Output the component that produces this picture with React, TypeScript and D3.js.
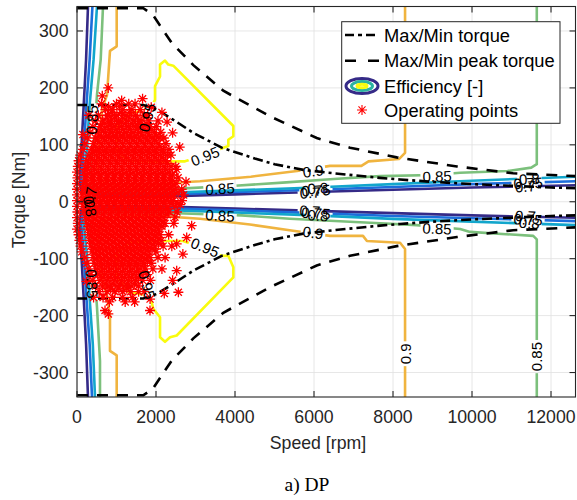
import React from 'react';
import * as d3 from 'd3';

type P = [number, number];

// ---------------- data ----------------
const speedTicks = [0, 2000, 4000, 6000, 8000, 10000, 12000];
const torqueTicks = [-300, -200, -100, 0, 100, 200, 300];
const speedDomain: P = [0, 12620];
const torqueDomain: P = [-343, 343];

const maxTorqueUpper: P[] = [[0, 170], [1680, 170], [2017, 162], [2438, 144], [2945, 121], [3114, 115], [3664, 95], [4500, 76], [5000, 66], [5730, 56], [6500, 50], [7670, 42], [8178, 39], [9000, 35], [10000, 31], [11000, 28], [12000, 25], [12620, 24]];
const maxTorqueLower: P[] = [[0, -170], [1680, -170], [2017, -162], [2438, -144], [2945, -121], [3114, -115], [3664, -95], [4500, -76], [5000, -66], [5730, -56], [6500, -50], [7670, -42], [8178, -39], [9000, -35], [10000, -31], [11000, -28], [12000, -25], [12620, -24]];
const peakTorqueUpper: P[] = [[0, 340], [1680, 340], [1924, 328], [2398, 279], [2945, 240], [3704, 195], [4887, 150], [6069, 112], [6912, 95], [8094, 78], [9620, 62], [11040, 50], [12620, 45]];
const peakTorqueLower: P[] = [[0, -340], [1680, -340], [1924, -328], [2398, -279], [2945, -240], [3704, -195], [4887, -150], [6069, -112], [6912, -95], [8094, -78], [9620, -62], [11040, -50], [12620, -45]];

const levels = [0.7, 0.75, 0.8, 0.85, 0.9, 0.95];
const levelColors = ['#352a87', '#1c6ddb', '#12a6cc', '#7cc07c', '#f0b43f', '#f9fb0e'];

const eff070: P[][] = [
  [[278, 343], [230, 250], [170, 170], [110, 92], [70, 40], [110, 14], [600, 9], [2000, 9], [4000, 13], [6000, 17], [8000, 21], [10000, 25], [12620, 29]],
  [[278, -343], [230, -250], [170, -170], [110, -92], [70, -40], [110, -12], [600, -8], [2000, -8], [4000, -12], [6000, -16], [8000, -20], [10000, -24], [12620, -28]],
];
const eff075: P[][] = [
  [[390, 343], [320, 250], [240, 170], [170, 92], [110, 40], [160, 16], [700, 12], [2000, 12], [4000, 17], [6000, 21], [8000, 26], [10000, 31], [12620, 36]],
  [[380, -343], [320, -250], [240, -170], [170, -92], [110, -40], [160, -14], [700, -11], [2000, -11], [4000, -15], [6000, -20], [8000, -25], [10000, -29], [12620, -34]],
];
const eff080: P[][] = [
  [[506, 343], [420, 250], [320, 170], [250, 92], [170, 40], [230, 18], [800, 15], [2000, 15], [4000, 20], [6000, 25], [8000, 31], [10000, 37], [12620, 44]],
  [[456, -343], [400, -250], [320, -170], [250, -92], [170, -40], [230, -17], [800, -14], [2000, -14], [4000, -19], [6000, -24], [8000, -30], [10000, -35], [12620, -41]],
];
const eff085: P[][] = [
  [[658, 343], [600, 250], [506, 188], [430, 110], [330, 50], [400, 24], [1000, 20], [2000, 21], [2600, 23], [4000, 28], [5300, 34], [6500, 40], [7670, 45], [9000, 47], [9700, 51], [10900, 54], [11500, 60], [11640, 66], [11640, 343]],
  [[582, -343], [582, -280], [506, -185], [430, -110], [330, -50], [400, -22], [1000, -18], [2000, -19], [4170, -24], [5390, -30], [7420, -37], [8600, -41], [9700, -48], [9950, -53], [11550, -60], [11640, -66], [11640, -343]],
];
const eff090: P[][] = [
  [[1005, 343], [1005, 273], [835, 265], [760, 188], [633, 162], [560, 100], [520, 50], [700, 32], [1200, 28], [1850, 27], [2355, 33], [3114, 36], [4400, 44], [5570, 54], [6406, 63], [7200, 63], [7380, 71], [8150, 75], [8305, 86], [8305, 343]],
  [[1005, -343], [1005, -270], [835, -262], [835, -200], [760, -165], [650, -141], [560, -100], [520, -50], [700, -30], [1200, -25], [1850, -24], [3114, -30], [4380, -40], [5470, -51], [6406, -60], [7240, -60], [7340, -69], [8178, -72], [8305, -83], [8305, -343]],
];
const eff095: P[][] = [
  [[1848, 162], [1975, 179], [1975, 203], [2102, 220], [2102, 241], [2228, 248], [2312, 241], [2438, 239], [3958, 133], [3958, 115], [3831, 109], [3831, 98], [3704, 95], [3241, 82], [2735, 71], [2481, 71], [1848, 71], [1300, 72], [1000, 90], [1000, 130], [1300, 155], [1848, 162]],
  [[1848, -165], [1932, -188], [2102, -203], [2102, -238], [2228, -246], [2355, -238], [2524, -235], [3958, -133], [3958, -115], [3831, -95], [3664, -95], [3241, -82], [2684, -69], [2481, -69], [1848, -69], [1300, -72], [1000, -90], [1000, -130], [1300, -158], [1848, -165]],
];
const effContours = [eff070, eff075, eff080, eff085, eff090, eff095];

// contour labels: level index, text, speed, torque, angle
const labelLevel = [3, 3, 4, 3, 5, 5, 4, 4, 3, 3, 3, 3, 0, 1, 2, 0, 1, 2, 0, 1, 2, 0, 1, 2, 5, 5, 0, 2];
const labelText = ['0.85', '0.85', '0.9', '0.85', '0.95', '0.95', '0.9', '0.9', '0.85', '0.85', '0.85', '0.85', '0.7', '0.75', '0.8', '0.7', '0.75', '0.8', '0.7', '0.75', '0.8', '0.7', '0.75', '0.8', '0.95', '0.95', '0.7', '0.8'];
const labelSpeed = [380, 380, 8305, 11640, 3241, 3241, 5976, 5976, 3621, 3621, 9115, 9115, 5900, 6050, 6100, 5900, 6050, 6100, 11350, 11420, 11450, 11350, 11420, 11450, 1772, 1772, 330, 330];
const labelTorque = [144, -144, -267, -272, 80, -80, 54, -54, 23, -24, 45, -47, 16, 20, 24, -16, -20, -24, 27, 33, 40, -25, -31, -37, 148, -146, 8, -8];
const labelAngle = [-87, 87, -90, -90, -22, 22, -8, 8, -4, 4, -2, 2, -3, -3, -3, 3, 3, 3, -3, -3, -3, 3, 3, 3, -75, 75, -80, 80];

// operating points: rows of [torque, speeds]
const opRows: [number, number[]][] = [
  [200, [790]],
  [186, [640]],
  [172, [620, 1000, 1310, 1470]],
  [162, [720, 900, 1160, 1390, 1600]],
  [152, [540, 780, 1010, 1240, 1480, 1700, 1790]],
  [142, [470, 650, 850, 1050, 1250, 1420, 1620, 1820, 2050]],
  [132, [400, 590, 780, 960, 1130, 1300, 1480, 1650, 1850, 2010]],
  [122, [330, 530, 720, 900, 1080, 1260, 1440, 1610, 1790, 1960, 2120]],
  [112, [260, 470, 660, 840, 1020, 1200, 1380, 1560, 1740, 1920, 2100, 2200]],
  [102, [200, 420, 610, 790, 970, 1150, 1330, 1510, 1690, 1870, 2050, 2250]],
  [92, [150, 370, 560, 740, 920, 1100, 1280, 1460, 1640, 1820, 2000, 2180, 2330]],
  [82, [80, 300, 490, 670, 850, 1030, 1210, 1390, 1570, 1750, 1930, 2110, 2290, 2380]],
  [72, [40, 250, 440, 620, 800, 980, 1160, 1340, 1520, 1700, 1880, 2060, 2240]],
  [62, [20, 210, 400, 580, 760, 940, 1120, 1300, 1480, 1660, 1840, 2020, 2200, 2380, 2500]],
  [52, [0, 180, 360, 540, 720, 900, 1080, 1260, 1440, 1620, 1800, 1980, 2160, 2340]],
  [42, [10, 200, 380, 560, 740, 920, 1100, 1280, 1460, 1640, 1820, 2000, 2180, 2360, 2560]],
  [32, [0, 170, 350, 530, 710, 890, 1070, 1250, 1430, 1610, 1790, 1970, 2150, 2330, 2510]],
  [22, [0, 150, 320, 500, 680, 860, 1040, 1220, 1400, 1580, 1760, 1940, 2120, 2300, 2480, 2650]],
  [12, [0, 130, 300, 480, 660, 840, 1020, 1200, 1380, 1560, 1740, 1920, 2100, 2280, 2460]],
  [2, [0, 120, 280, 460, 640, 820, 1000, 1180, 1360, 1540, 1720, 1900, 2080, 2260, 2440, 2660]],
  [-8, [0, 150, 320, 500, 680, 860, 1040, 1220, 1400, 1580, 1760, 1940, 2120, 2300, 2480]],
  [-18, [10, 180, 350, 530, 710, 890, 1070, 1250, 1430, 1610, 1790, 1970, 2150, 2330, 2530]],
  [-28, [0, 220, 400, 580, 760, 940, 1120, 1300, 1480, 1660, 1840, 2020, 2200]],
  [-38, [20, 250, 430, 610, 790, 970, 1150, 1330, 1510, 1690, 1870, 2050, 2230, 2450]],
  [-48, [0, 270, 450, 630, 810, 990, 1170, 1350, 1530, 1710, 1890, 2070]],
  [-58, [40, 300, 480, 660, 840, 1020, 1200, 1380, 1560, 1740, 1920, 2100, 2320]],
  [-68, [60, 320, 500, 680, 860, 1040, 1220, 1400, 1580, 1760, 1940, 2130]],
  [-78, [90, 350, 530, 710, 890, 1070, 1250, 1430, 1610, 1790, 1970, 2180, 2400]],
  [-88, [120, 380, 560, 740, 920, 1100, 1280, 1460, 1640, 1820, 2000]],
  [-98, [200, 410, 590, 770, 950, 1130, 1310, 1490, 1670, 1850, 2050, 2230]],
  [-108, [250, 440, 620, 800, 980, 1160, 1340, 1520, 1700, 1880]],
  [-118, [300, 470, 650, 830, 1010, 1190, 1370, 1550, 1730, 1920, 2150]],
  [-128, [350, 520, 700, 880, 1060, 1240, 1420, 1600, 1780]],
  [-138, [400, 580, 760, 940, 1120, 1300, 1480, 1660, 1860]],
  [-148, [470, 650, 830, 1010, 1190, 1370, 1550]],
  [-158, [560, 760, 960, 1160, 1360, 1560, 1700]],
  [-168, [660, 900, 1150, 1400]],
  [-176, [820, 1220, 1460]],
];
const opRowsDense: [number, number[]][] = [
  [167, [800, 1080]],
  [157, [880, 1120, 1330]],
  [147, [760, 950, 1150, 1340, 1530]],
  [137, [690, 870, 1050, 1220, 1390, 1560, 1750]],
  [127, [620, 810, 990, 1170, 1350, 1530, 1700, 1880]],
  [117, [560, 750, 930, 1110, 1290, 1470, 1650, 1830, 2010]],
  [107, [520, 700, 880, 1060, 1240, 1420, 1600, 1780, 1960]],
  [97, [460, 650, 830, 1010, 1190, 1370, 1550, 1730, 1910, 2100]],
  [87, [400, 580, 760, 940, 1120, 1300, 1480, 1660, 1840, 2020, 2200]],
  [77, [350, 530, 710, 890, 1070, 1250, 1430, 1610, 1790, 1970, 2150]],
  [67, [300, 490, 670, 850, 1030, 1210, 1390, 1570, 1750, 1930, 2110, 2290]],
  [57, [270, 450, 630, 810, 990, 1170, 1350, 1530, 1710, 1890, 2070, 2250]],
  [47, [250, 430, 610, 790, 970, 1150, 1330, 1510, 1690, 1870, 2050, 2230, 2420]],
  [37, [260, 440, 620, 800, 980, 1160, 1340, 1520, 1700, 1880, 2060, 2240, 2420]],
  [27, [240, 420, 600, 780, 960, 1140, 1320, 1500, 1680, 1860, 2040, 2220, 2400]],
  [17, [220, 400, 580, 760, 940, 1120, 1300, 1480, 1660, 1840, 2020, 2200, 2380, 2560]],
  [7, [200, 380, 560, 740, 920, 1100, 1280, 1460, 1640, 1820, 2000, 2180, 2360]],
  [-3, [220, 400, 580, 760, 940, 1120, 1300, 1480, 1660, 1840, 2020, 2200, 2380, 2560]],
  [-13, [260, 440, 620, 800, 980, 1160, 1340, 1520, 1700, 1880, 2060, 2240]],
  [-23, [300, 480, 660, 840, 1020, 1200, 1380, 1560, 1740, 1920, 2100, 2280]],
  [-33, [330, 510, 690, 870, 1050, 1230, 1410, 1590, 1770, 1950, 2130]],
  [-43, [350, 530, 710, 890, 1070, 1250, 1430, 1610, 1790, 1970, 2150]],
  [-53, [380, 560, 740, 920, 1100, 1280, 1460, 1640, 1820, 2000]],
  [-63, [400, 580, 760, 940, 1120, 1300, 1480, 1660, 1840, 2030]],
  [-73, [430, 610, 790, 970, 1150, 1330, 1510, 1690, 1870, 2060]],
  [-83, [460, 640, 820, 1000, 1180, 1360, 1540, 1720, 1900]],
  [-93, [490, 670, 850, 1030, 1210, 1390, 1570, 1750]],
  [-103, [520, 700, 880, 1060, 1240, 1420, 1600, 1780]],
  [-113, [560, 740, 920, 1100, 1280, 1460, 1640]],
  [-123, [610, 790, 970, 1150, 1330, 1510, 1690]],
  [-133, [660, 840, 1020, 1200, 1380, 1560]],
  [-143, [730, 910, 1090, 1270, 1450]],
  [-153, [850, 1060, 1260]],
];
const opExtra: P[] = [
  [2524, 57], [2903, -42], [2777, -63], [2524, -74], [2524, -121], [2566, -159], [1848, -191], [709, -191], [793, -197], [2481, -27],
  [2700, 12], [2600, 96], [2420, 121], [2280, 140], [2150, 157], [1880, 166], [1660, 181], [1130, 178], [300, 152], [150, 118],
  [2680, -92], [2420, -138], [2210, -161], [1850, -171], [420, -168], [240, -140], [2760, 35], [2610, -5],
];

const legendLabels = ['Max/Min torque', 'Max/Min peak torque', 'Efficiency [-]', 'Operating points'];

// ---------------- chart ----------------
const W = 577;
const H = 500;
const FONT = '"Liberation Sans", Arial, Helvetica, sans-serif';
const AX = '#262626';

function textWidth(t: string, fs: number) {
  let w = 0;
  for (const c of t) w += c === '.' ? 0.278 : 0.556;
  return w * fs;
}

export default function App() {
  const left = 77, right = 575.5, top = 6.5, bottom = 397;
  const x = d3.scaleLinear().domain(speedDomain).range([left, right]);
  const y = d3.scaleLinear().domain(torqueDomain).range([bottom, top]);
  const line = d3.line<P>().x(d => x(d[0])).y(d => y(d[1]));

  const points: P[] = [];
  opRows.forEach(([t, ss]) => ss.forEach(s => points.push([s, t])));
  opRowsDense.forEach(([t, ss]) => ss.forEach(s => points.push([s, t])));
  opExtra.forEach(p => points.push(p));
  const r = 5;
  const dd = r * 0.7071;
  const star = (cx: number, cy: number) =>
    `M${cx - r},${cy}L${cx + r},${cy}M${cx},${cy - r}L${cx},${cy + r}` +
    `M${cx - dd},${cy - dd}L${cx + dd},${cy + dd}M${cx - dd},${cy + dd}L${cx + dd},${cy - dd}`;
  const starPath = points.map(p => star(x(p[0]), y(p[1]))).join('');

  const labels = labelText.map((t, i) => ({
    level: labelLevel[i], text: t, px: x(labelSpeed[i]), py: y(labelTorque[i]), a: labelAngle[i],
  }));

  const LFS = 15;
  const AFS = 17.7;
  const legendY = [35, 60.7, 86, 110];

  return (
    <svg width={W} height={H} style={{ position: 'absolute', left: 0, top: 0, background: '#fff' }}>
      <defs>
        <clipPath id="plotClip">
          <rect x={left} y={top} width={right - left} height={bottom - top} />
        </clipPath>
        {levels.map((lv, li) => (
          <mask id={`lm${li}`} key={li} maskUnits="userSpaceOnUse" x={0} y={0} width={W} height={H}>
            <rect x={0} y={0} width={W} height={H} fill="#fff" />
            {labels.filter(l => l.level === li).map((l, k) => {
              const w = textWidth(l.text, LFS) + 4;
              return (
                <rect key={k} x={-w / 2} y={-6.5} width={w} height={13} fill="#000"
                  transform={`translate(${l.px},${l.py}) rotate(${l.a})`} />
              );
            })}
          </mask>
        ))}
      </defs>
      <rect x={0} y={0} width={W} height={H} fill="#fff" />

      {/* grid */}
      <g stroke="#dfdfdf" strokeWidth={0.8}>
        {speedTicks.map(s => <line key={`gx${s}`} x1={x(s)} x2={x(s)} y1={top} y2={bottom} />)}
        {torqueTicks.map(t => <line key={`gy${t}`} x1={left} x2={right} y1={y(t)} y2={y(t)} />)}
      </g>

      {/* efficiency contours */}
      <g clipPath="url(#plotClip)" fill="none" strokeWidth={2.6} strokeLinejoin="round">
        {effContours.map((segs, li) => (
          <g key={li} mask={`url(#lm${li})`} stroke={levelColors[li]}>
            {segs.map((seg, k) => <path key={k} d={line(seg) || ''} />)}
          </g>
        ))}
      </g>

      {/* torque limits */}
      <g clipPath="url(#plotClip)" fill="none" stroke="#000" strokeWidth={2.6}>
        <path d={line(maxTorqueUpper) || ''} strokeDasharray="10,4,3,4" />
        <path d={line(maxTorqueLower) || ''} strokeDasharray="10,4,3,4" />
        <path d={line(peakTorqueUpper) || ''} strokeDasharray="11,9" />
        <path d={line(peakTorqueLower) || ''} strokeDasharray="11,9" />
      </g>

      {/* operating points */}
      <path d={starPath} stroke="#ff0000" strokeWidth={1.3} fill="none" />

      {/* contour labels */}
      <g fontFamily={FONT} fontSize={LFS} fill="#000">
        {labels.map((l, i) => (
          <text key={i} transform={`translate(${l.px},${l.py}) rotate(${l.a})`} textAnchor="middle" dominantBaseline="central">{l.text}</text>
        ))}
      </g>

      {/* axes box and ticks */}
      <g stroke={AX} strokeWidth={1.1} fill="none">
        <rect x={left} y={top} width={right - left} height={bottom - top} />
        {speedTicks.map(s => (
          <g key={`tx${s}`}>
            <line x1={x(s)} x2={x(s)} y1={bottom} y2={bottom - 6} />
            <line x1={x(s)} x2={x(s)} y1={top} y2={top + 6} />
          </g>
        ))}
        {torqueTicks.map(t => (
          <g key={`ty${t}`}>
            <line x1={left} x2={left + 6} y1={y(t)} y2={y(t)} />
            <line x1={right} x2={right - 6} y1={y(t)} y2={y(t)} />
          </g>
        ))}
      </g>
      <g fontFamily={FONT} fontSize={AFS} fill={AX}>
        {speedTicks.map(s => (
          <text key={`lx${s}`} x={x(s)} y={423} textAnchor="middle">{s}</text>
        ))}
        {torqueTicks.map(t => (
          <text key={`ly${t}`} x={68.5} y={y(t)} textAnchor="end" dominantBaseline="central">{t}</text>
        ))}
        <text x={318} y={449} textAnchor="middle">Speed [rpm]</text>
        <text transform="translate(19,200) rotate(-90)" textAnchor="middle" dominantBaseline="central">Torque [Nm]</text>
      </g>

      {/* legend */}
      <g>
        <rect x={341.7} y={21.7} width={218.3} height={101.6} fill="#fff" stroke={AX} strokeWidth={1} />
        <line x1={345} x2={379} y1={legendY[0]} y2={legendY[0]} stroke="#000" strokeWidth={2.6} strokeDasharray="9,4,4,4" />
        <line x1={345} x2={379} y1={legendY[1]} y2={legendY[1]} stroke="#000" strokeWidth={2.6} strokeDasharray="11,12" />
        <ellipse cx={362} cy={legendY[2]} rx={16} ry={7.5} fill="none" stroke={levelColors[0]} strokeWidth={3} />
        <ellipse cx={362} cy={legendY[2]} rx={10.5} ry={4.5} fill="none" stroke="#2bb3a0" strokeWidth={3} />
        <ellipse cx={362} cy={legendY[2]} rx={5} ry={1.8} fill="none" stroke={levelColors[5]} strokeWidth={3} />
        <path d={star(362, legendY[3])} stroke="#ff0000" strokeWidth={1.1} fill="none" />
        <g fontFamily={FONT} fontSize={18.3} fill="#000">
          {legendLabels.map((t, i) => (
            <text key={i} x={384} y={legendY[i]} dominantBaseline="central">{t}</text>
          ))}
        </g>
      </g>

      <text x={307} y={491} textAnchor="middle" fontFamily='"Liberation Serif", "Times New Roman", serif' fontSize={19.5} fill="#000">a) DP</text>
    </svg>
  );
}
